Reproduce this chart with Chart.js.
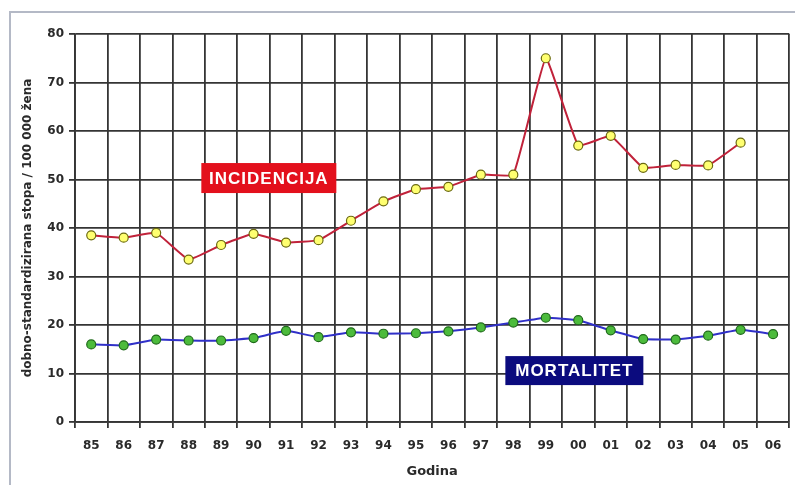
<!DOCTYPE html>
<html>
<head>
<meta charset="utf-8">
<script src="https://cdn.jsdelivr.net/npm/chart.js@4/dist/chart.umd.min.js"></script>
<style>
  body { margin: 0; background: #fff; overflow: hidden; }
  #wrap { position: relative; width: 795px; height: 485px; }
  #frame { position: absolute; left: 9px; top: 11px; right: 0; bottom: 0;
           border-left: 2px solid #b4b9c6; border-top: 2px solid #b4b9c6; }
  #chart { position: absolute; left: 0; top: 0; }
</style>
</head>
<body>
<div id="wrap">
  <div id="frame"></div>
  <canvas id="chart" width="795" height="485"></canvas>
</div>
<script>
const years = ['85', '86', '87', '88', '89', '90', '91', '92', '93', '94', '95',
               '96', '97', '98', '99', '00', '01', '02', '03', '04', '05', '06'];
const incidencija = [38.5, 38, 39, 33.5, 36.5, 38.8, 37, 37.5, 41.5, 45.5, 48,
                     48.5, 51, 51, 75, 57, 59, 52.4, 53, 52.9, 57.6, null];
const mortalitet = [16, 15.8, 17, 16.8, 16.8, 17.3, 18.8, 17.5, 18.5, 18.2, 18.3,
                    18.7, 19.5, 20.5, 21.5, 21, 18.9, 17.1, 17, 17.8, 19, 18.1];
const yTicks = [0, 10, 20, 30, 40, 50, 60, 70, 80];

const gridColor = '#353535';
const tickFont = { family: 'DejaVu Sans', size: 12, weight: 'bold' };

// series name boxes, placed in data coordinates
const nameBoxes = [
  { text: 'INCIDENCIJA', xi: 5.47, yv: 50.3, w: 135, h: 30, fill: '#e3101c' },
  { text: 'MORTALITET', xi: 14.88, yv: 10.6, w: 138, h: 29, fill: '#0b0b7e' }
];

const nameBoxPlugin = {
  id: 'nameBoxes',
  afterDatasetsDraw(chart) {
    const ctx = chart.ctx;
    const xs = chart.scales.x, ys = chart.scales.y;
    ctx.save();
    nameBoxes.forEach(b => {
      const cx = xs.getPixelForValue(b.xi);
      const cy = ys.getPixelForValue(b.yv);
      ctx.fillStyle = b.fill;
      ctx.fillRect(cx - b.w / 2, cy - b.h / 2, b.w, b.h);
      ctx.fillStyle = '#fff';
      ctx.font = 'bold 17px "Liberation Sans", Arial, sans-serif';
      ctx.letterSpacing = '1px';
      ctx.textAlign = 'center';
      ctx.textBaseline = 'middle';
      ctx.fillText(b.text, cx, cy + 1);
    });
    ctx.restore();
  }
};

new Chart(document.getElementById('chart').getContext('2d'), {
  type: 'line',
  data: {
    labels: years,
    datasets: [
      {
        label: 'Incidencija',
        data: incidencija,
        borderColor: '#c0223a',
        borderWidth: 2,
        backgroundColor: '#ffff70',
        pointBackgroundColor: '#ffff70',
        pointBorderColor: '#6b6a10',
        pointBorderWidth: 1.2,
        pointRadius: 4.5,
        tension: 0.1,
        fill: false
      },
      {
        label: 'Mortalitet',
        data: mortalitet,
        borderColor: '#3030c8',
        borderWidth: 2,
        backgroundColor: '#4cbb3c',
        pointBackgroundColor: '#4cbb3c',
        pointBorderColor: '#1f6a1a',
        pointBorderWidth: 1.2,
        pointRadius: 4.5,
        tension: 0.1,
        fill: false
      }
    ]
  },
  options: {
    responsive: false,
    animation: false,
    layout: { padding: { left: 0, top: 34, right: 4, bottom: 0 } },
    plugins: {
      legend: { display: false },
      tooltip: { enabled: false }
    },
    scales: {
      x: {
        offset: true,
        grid: { offset: true, color: gridColor, lineWidth: 1.8, tickLength: 6 },
        border: { color: gridColor, width: 1.8 },
        ticks: { color: '#2a2a2a', font: tickFont, padding: 11, maxRotation: 0, autoSkip: false },
        title: {
          display: true,
          text: 'Godina',
          color: '#2a2a2a',
          font: { family: 'DejaVu Sans', size: 13, weight: 'bold' },
          padding: { top: 0, bottom: 6 }
        },
        afterFit(scale) { scale.height = 63; }
      },
      y: {
        min: 0,
        max: 80,
        afterBuildTicks(scale) { scale.ticks = yTicks.map(v => ({ value: v })); },
        grid: { color: gridColor, lineWidth: 1.8, tickLength: 6 },
        border: { color: gridColor, width: 1.8 },
        ticks: { color: '#2a2a2a', font: tickFont, padding: 5 },
        title: {
          display: true,
          text: 'dobno-standardizirana stopa / 100 000 žena',
          color: '#2a2a2a',
          font: { family: 'DejaVu Sans', size: 12, weight: 'bold' },
          padding: { top: 21, bottom: 0 }
        },
        afterFit(scale) { scale.width = 75; }
      }
    }
  },
  plugins: [nameBoxPlugin]
});
</script>
</body>
</html>
